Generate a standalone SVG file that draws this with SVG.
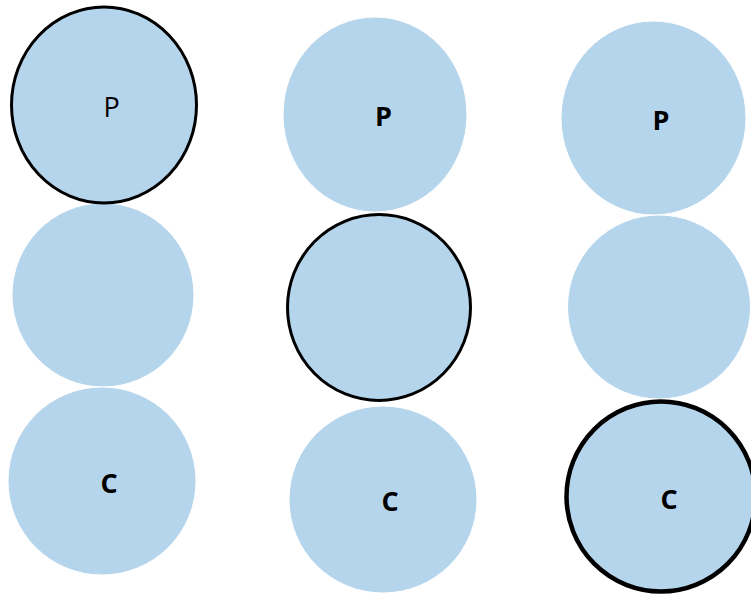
<svg xmlns="http://www.w3.org/2000/svg" width="751" height="596" viewBox="0 0 751 596">
<style>
.c{fill:#b4d5ec;stroke:#ffffff;stroke-width:1}
.s{fill:#b4d5ec;stroke:#000000;stroke-width:3}
.t{stroke-width:4.5}
.l{font-family:"Open Sans","Liberation Sans",sans-serif;font-size:27px;fill:#000000;text-anchor:middle}
.b{font-weight:bold}
</style>
<rect width="751" height="596" fill="#ffffff"/>
<g id="col1-mid"><ellipse class="c" cx="103" cy="295" rx="91" ry="92"/></g>
<g id="col1-c"><ellipse class="c" cx="102" cy="481" rx="94" ry="94"/><text class="l b" x="109" y="493">C</text></g>
<g id="col1-p"><ellipse class="s" cx="104" cy="105" rx="92.5" ry="98"/><text class="l" x="111.5" y="117">P</text></g>
<g id="col2-p"><ellipse class="c" cx="375" cy="114.5" rx="92" ry="97.5"/><text class="l b" x="383.5" y="126">P</text></g>
<g id="col2-c"><ellipse class="c" cx="383" cy="499.5" rx="94" ry="93.5"/><text class="l b" x="390" y="511">C</text></g>
<g id="col2-mid"><ellipse class="s" cx="379" cy="307.5" rx="91.5" ry="93"/></g>
<g id="col3-p"><ellipse class="c" cx="653.5" cy="118" rx="92.5" ry="97"/><text class="l b" x="661" y="130">P</text></g>
<g id="col3-mid"><ellipse class="c" cx="659" cy="307" rx="91.5" ry="92"/></g>
<g id="col3-c"><ellipse class="s t" cx="661" cy="496.5" rx="94.5" ry="95"/><text class="l b" x="669" y="509">C</text></g>
<g id="connectors"></g>
</svg>
